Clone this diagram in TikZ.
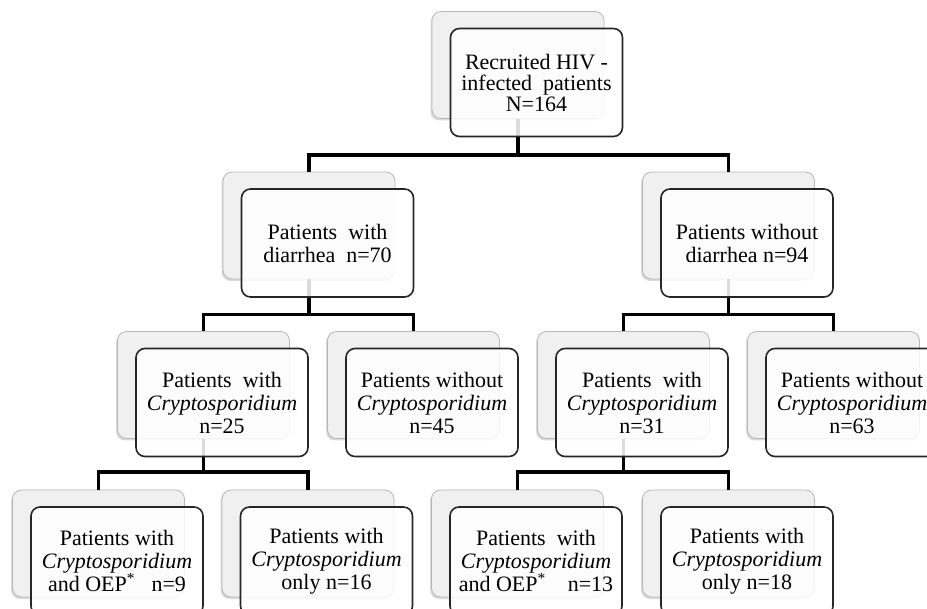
\documentclass[tikz,border=0pt]{standalone}
\usepackage{fontspec}
\setmainfont{Liberation Serif}
\usetikzlibrary{shadows}
\tikzset{
  backbox/.style={draw=black!28, fill=black!6, rounded corners=9pt,
    minimum width=172pt, minimum height=107pt, line width=0.8pt,
    drop shadow={shadow xshift=-1.5pt, shadow yshift=-2pt, opacity=0.3, fill=black!50}},
  frontbox/.style={draw=black!85, line width=1.6pt, fill=white, fill opacity=0.86,
    text opacity=1, rounded corners=9pt, minimum width=172pt, minimum height=108pt,
    align=center, font=\fontsize{22}{23}\selectfont, inner sep=2pt},
  link/.style={line width=3.2pt, line join=miter}
}
\begin{document}
\begin{tikzpicture}[x=1pt,y=-1pt]
\useasboundingbox (0,0) rectangle (927,609);
\clip (0,0) rectangle (927,609);
% back boxes
\node[backbox] (top) at (518,65) {};
\node[backbox] (l2a) at (309,225.5) {};
\node[backbox] (l2b) at (728.5,225.5) {};
\node[backbox] (l3a) at (203.5,385) {};
\node[backbox] (l3b) at (413.5,385) {};
\node[backbox] (l3c) at (623.5,385) {};
\node[backbox] (l3d) at (833.5,385) {};
\node[backbox] (l4a) at (98.5,543.5) {};
\node[backbox] (l4b) at (308,543.5) {};
\node[backbox] (l4c) at (517.5,543.5) {};
\node[backbox] (l4d) at (728.5,543.5) {};
% buses
\coordinate (bus1) at (0,155);
\coordinate (bus2) at (0,314.5);
\coordinate (bus3) at (0,472);
% connectors
\draw[link] (top.south) -- (top.south |- bus1) -| (l2a.north);
\draw[link] (top.south |- bus1) -| (l2b.north);
\draw[link] (l2a.south) -- (l2a.south |- bus2) -| (l3a.north);
\draw[link] (l2a.south |- bus2) -| (l3b.north);
\draw[link] (l2b.south) -- (l2b.south |- bus2) -| (l3c.north);
\draw[link] (l2b.south |- bus2) -| (l3d.north);
\draw[link] (l3a.south) -- (l3a.south |- bus3) -| (l4a.north);
\draw[link] (l3a.south |- bus3) -| (l4b.north);
\draw[link] (l3c.south) -- (l3c.south |- bus3) -| (l4c.north);
\draw[link] (l3c.south |- bus3) -| (l4d.north);
% front boxes
\node[frontbox, font=\fontsize{22}{21}\selectfont] (topf) at ([shift={(18.5,17.5)}]top.center) {Recruited HIV -\\infected\ \ patients\\N=164};
\node[frontbox] (l2af) at ([shift={(18.5,17.5)}]l2a.center) {Patients\ \ with\\diarrhea\ \ n=70};
\node[frontbox] (l2bf) at ([shift={(18.5,17.5)}]l2b.center) {Patients without\\diarrhea n=94};
\node[frontbox] (l3af) at ([shift={(18.5,17.5)}]l3a.center) {Patients\ \ with\\\textit{Cryptosporidium}\\n=25};
\node[frontbox] (l3bf) at ([shift={(18.5,17.5)}]l3b.center) {Patients without\\\textit{Cryptosporidium}\\n=45};
\node[frontbox] (l3cf) at ([shift={(18.5,17.5)}]l3c.center) {Patients\ \ with\\\textit{Cryptosporidium}\\n=31};
\node[frontbox] (l3df) at ([shift={(18.5,17.5)}]l3d.center) {Patients without\\\textit{Cryptosporidium}\\n=63};
\node[frontbox] (l4af) at ([shift={(18.5,17.5)}]l4a.center) {Patients with\\\textit{Cryptosporidium}\\and OEP\textsuperscript{*}\ \ \ n=9};
\node[frontbox] (l4bf) at ([shift={(18.5,17.5)}]l4b.center) {Patients with\\\textit{Cryptosporidium}\\only n=16};
\node[frontbox] (l4cf) at ([shift={(18.5,17.5)}]l4c.center) {Patients\ \ with\\\textit{Cryptosporidium}\\and OEP\textsuperscript{*}\ \ \ \ n=13};
\node[frontbox] (l4df) at ([shift={(18.5,17.5)}]l4d.center) {Patients with\\\textit{Cryptosporidium}\\only n=18};
\end{tikzpicture}
\end{document}
